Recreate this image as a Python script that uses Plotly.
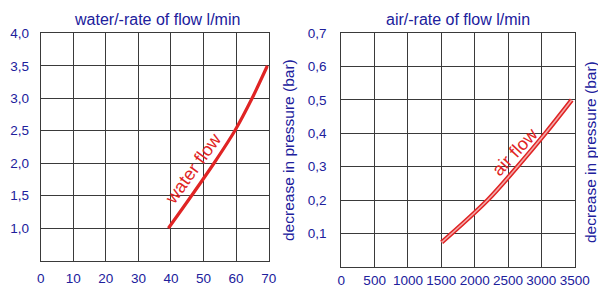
import plotly.graph_objects as go

# ---- data ----
water_flow = [39.2, 46.3, 53.2, 59.6, 64.9, 69.6]
water_dp = [1.0, 1.5, 2.0, 2.5, 3.0, 3.5]
air_flow = [1505, 2195, 2640, 3060, 3455]
air_dp = [0.073, 0.2, 0.3, 0.4, 0.5]

water_xticks = [0, 10, 20, 30, 40, 50, 60, 70]
water_yticks = [1.0, 1.5, 2.0, 2.5, 3.0, 3.5, 4.0]
water_yticktext = ["1,0", "1,5", "2,0", "2,5", "3,0", "3,5", "4,0"]
air_xticks = [0, 500, 1000, 1500, 2000, 2500, 3000, 3500]
air_yticks = [0.1, 0.2, 0.3, 0.4, 0.5, 0.6, 0.7]
air_yticktext = ["0,1", "0,2", "0,3", "0,4", "0,5", "0,6", "0,7"]

BLUE = "#20209c"
RED = "#e02424"
GRID = "#3a3a3a"
FONT = "Liberation Sans, Arial, sans-serif"

W, H = 598, 287

fig = go.Figure()

fig.add_trace(go.Scatter(x=water_flow, y=water_dp, mode="lines",
                         line=dict(color=RED, width=3.2, shape="spline", smoothing=0.8),
                         xaxis="x", yaxis="y", showlegend=False, hoverinfo="skip"))
fig.add_trace(go.Scatter(x=air_flow, y=air_dp, mode="lines",
                         line=dict(color=RED, width=4.6, shape="spline", smoothing=1.0),
                         xaxis="x2", yaxis="y2", showlegend=False, hoverinfo="skip"))
fig.add_trace(go.Scatter(x=air_flow, y=air_dp, mode="lines",
                         line=dict(color="#f2a8a8", width=1.6, shape="spline", smoothing=1.0),
                         xaxis="x2", yaxis="y2", showlegend=False, hoverinfo="skip"))

def px_x(a, b):
    return [a / W, b / W]

def px_y(top, bottom):
    return [1 - bottom / H, 1 - top / H]

axis_common = dict(showgrid=True, gridcolor=GRID, gridwidth=1, showline=True, linecolor=GRID, linewidth=1,
                   mirror=True, zeroline=False, ticks="", automargin=False,
                   tickfont=dict(family=FONT, size=13.5, color=BLUE))

fig.update_layout(
    width=W, height=H, margin=dict(l=0, r=0, t=0, b=0, pad=0),
    paper_bgcolor="white", plot_bgcolor="white",
    font=dict(family=FONT, color=BLUE),
    xaxis=dict(domain=px_x(40.7, 268.7), range=[0, 70], tickvals=water_xticks, anchor="y",
               ticklabelstandoff=5, **axis_common),
    yaxis=dict(domain=px_y(33.3, 260.7), range=[0.5, 4.0], tickvals=water_yticks, ticktext=water_yticktext,
               anchor="x", ticklabelstandoff=8, **axis_common),
    xaxis2=dict(domain=px_x(341.3, 574.7), range=[0, 3500], tickvals=air_xticks, anchor="y2",
                ticklabelstandoff=1, **axis_common),
    yaxis2=dict(domain=px_y(33.3, 266.7), range=[0, 0.7], tickvals=air_yticks, ticktext=air_yticktext,
                anchor="x2", ticklabelstandoff=11, **axis_common),
    annotations=[
        dict(text="water/-rate of flow l/min", x=157 / W, y=1 - 19 / H, xref="paper", yref="paper",
             showarrow=False, font=dict(size=16, color=BLUE, family=FONT), xanchor="center", yanchor="middle"),
        dict(text="air/-rate of flow l/min", x=458 / W, y=1 - 19 / H, xref="paper", yref="paper",
             showarrow=False, font=dict(size=16, color=BLUE, family=FONT), xanchor="center", yanchor="middle"),
        dict(text="decrease in pressure (bar)", x=288 / W, y=1 - 150 / H, xref="paper", yref="paper",
             showarrow=False, textangle=-90, font=dict(size=15.5, color=BLUE, family=FONT),
             xanchor="center", yanchor="middle"),
        dict(text="decrease in pressure (bar)", x=590 / W, y=1 - 152 / H, xref="paper", yref="paper",
             showarrow=False, textangle=-90, font=dict(size=15.5, color=BLUE, family=FONT),
             xanchor="center", yanchor="middle"),
        dict(text="water flow", x=47.0, y=1.92, xref="x", yref="y", showarrow=False, textangle=-54,
             font=dict(size=18, color=RED, family=FONT), xanchor="center", yanchor="middle"),
        dict(text="air flow", x=2600, y=0.345, xref="x2", yref="y2", showarrow=False, textangle=-47,
             font=dict(size=18, color=RED, family=FONT), xanchor="center", yanchor="middle"),
    ],
)

fig.write_html("out.html", config={"displayModeBar": False},
               post_script="document.body.style.margin='0';document.body.style.padding='0';"
                           "document.body.style.overflow='hidden';"
                           "document.documentElement.style.overflow='hidden';")
